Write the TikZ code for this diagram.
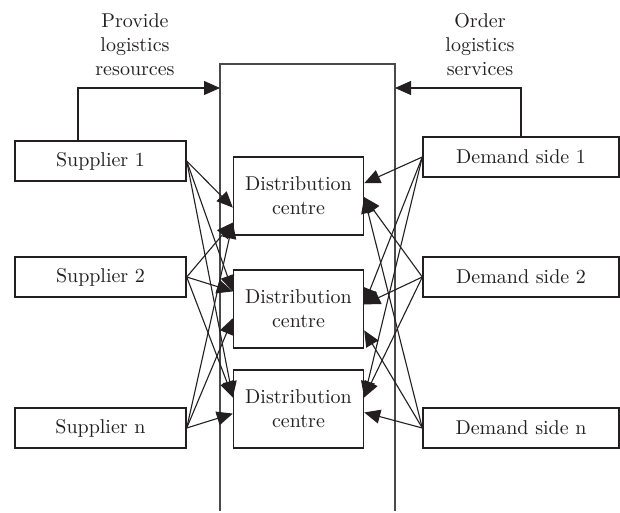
\documentclass[tikz,border=0pt]{standalone}
\usepackage{xcolor}
\usepackage{tikz}
\usetikzlibrary{arrows.meta,positioning}
\definecolor{chainink}{HTML}{231F20}
\definecolor{chainframe}{HTML}{4A4A4A}
\tikzset{%
  chainbox/.style={%
    draw=chainink,
    fill=white,
    line width=0.7pt,
    minimum height=20pt,
    inner sep=2pt,
    text=chainink
  },
  chainsupplier/.style={chainbox,minimum width=85.5pt},
  chaindemand/.style={chainbox,minimum width=98pt},
  chaincentre/.style={%
    chainbox,
    minimum width=65pt,
    minimum height=39pt,
    align=center
  },
  chainlabel/.style={align=center,inner sep=0pt,text=chainink},
  chainarrow/.style={-{Triangle[length=8pt,width=7pt]},line width=0.55pt,draw=chainink},
  chainwall/.style={line width=0.75pt,draw=chainframe}
}

\begin{document}
\begin{tikzpicture}[x=0.5pt,y=-0.5pt]
  \useasboundingbox (0,0) rectangle (620,513);

  % platform, open at the bottom
  \coordinate (framebl) at (220,511);
  \coordinate (frametl) at (220,64);
  \coordinate (frametr) at (395,64);
  \coordinate (framebr) at (395,511);
  \coordinate (resin) at (220,88);
  \coordinate (ordin) at (395,88);
  \draw[chainwall] (framebl) -- (frametl) -- (frametr) -- (framebr);

  \node[chainlabel] (provide) at (135,45) {Provide\\logistics\\resources};
  \node[chainlabel] (order) at (480,45) {Order\\logistics\\services};

  \node[chainsupplier] (sup1) at (100.5,161) {Supplier 1};
  \node[chainsupplier] (sup2) at (100.5,277) {Supplier 2};
  \node[chainsupplier] (supn) at (100.5,428) {Supplier n};

  \node[chaindemand] (dem1) at (521,157) {Demand side 1};
  \node[chaindemand] (dem2) at (521,277) {Demand side 2};
  \node[chaindemand] (demn) at (521,428) {Demand side n};

  \node[chaincentre] (dc1) at (298.5,196) {Distribution\\centre};
  \node[chaincentre] (dc2) at (298.5,309) {Distribution\\centre};
  \node[chaincentre] (dc3) at (298.5,409) {Distribution\\centre};

  \draw[chainarrow] ([xshift=-11.25pt]sup1.north) |- (resin);
  \draw[chainarrow] (dem1.north) |- (ordin);

  % suppliers to centres
  \draw[chainarrow] (sup1.east) -- (dc1.190);
  \draw[chainarrow] (sup1.east) -- (dc2.165);
  \draw[chainarrow] (sup1.east) -- (dc3.170);
  \draw[chainarrow] (sup2.east) -- (dc1.202);
  \draw[chainarrow] (sup2.east) -- (dc2.165);
  \draw[chainarrow] (sup2.east) -- (dc3.170);
  \draw[chainarrow] (supn.east) -- (dc1.202);
  \draw[chainarrow] (supn.east) -- (dc2.188);
  \draw[chainarrow] (supn.east) -- (dc3.184);

  % demand sides to centres
  \draw[chainarrow] (dem1.west) -- (dc1.11);
  \draw[chainarrow] (dem1.west) -- (dc2.4);
  \draw[chainarrow] (dem1.west) -- (dc3.10);
  \draw[chainarrow] (dem2.west) -- (dc1.359);
  \draw[chainarrow] (dem2.west) -- (dc2.4);
  \draw[chainarrow] (dem2.west) -- (dc3.10);
  \draw[chainarrow] (demn.west) -- (dc1.359);
  \draw[chainarrow] (demn.west) -- (dc2.342);
  \draw[chainarrow] (demn.west) -- (dc3.357);
\end{tikzpicture}
\end{document}
